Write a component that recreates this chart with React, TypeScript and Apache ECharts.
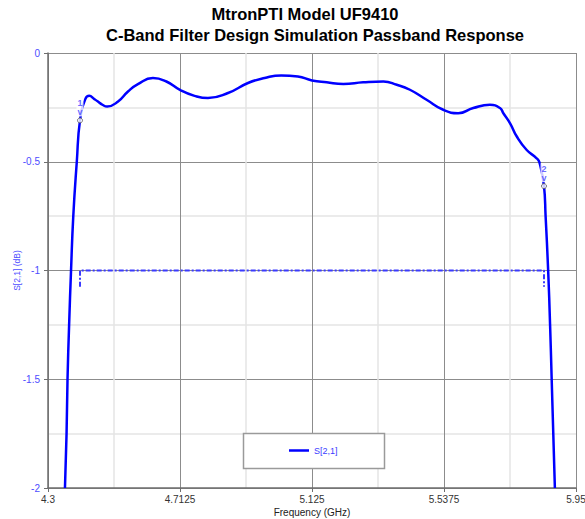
import React, { useEffect, useRef } from 'react';
import * as echarts from 'echarts';

// S[2,1] response (GHz, dB)
const freq = [
  4.353, 4.358, 4.361, 4.366, 4.372, 4.379, 4.39, 4.4, 4.4166, 4.429, 4.445, 4.456, 4.47, 4.485,
  4.519, 4.55, 4.581, 4.628, 4.67, 4.715, 4.758, 4.8, 4.8625, 4.925, 4.977, 5.029, 5.081, 5.125,
  5.171, 5.223, 5.285, 5.348, 5.39, 5.431, 5.483, 5.535, 5.582, 5.629, 5.681, 5.7125, 5.723, 5.744,
  5.765, 5.796, 5.827, 5.836, 5.85, 5.855, 5.863, 5.869, 5.874, 5.879, 5.884,
];
const s21 = [
  -2.0, -1.75, -1.5, -1.25, -1.0, -0.75, -0.5, -0.31, -0.212, -0.197, -0.212, -0.223, -0.238, -0.246,
  -0.223, -0.177, -0.143, -0.115, -0.131, -0.172, -0.197, -0.207, -0.184, -0.138, -0.115, -0.103, -0.108, -0.126,
  -0.135, -0.143, -0.135, -0.131, -0.146, -0.169, -0.215, -0.261, -0.277, -0.253, -0.238, -0.253, -0.277, -0.323,
  -0.384, -0.446, -0.484, -0.504, -0.612, -0.75, -1.0, -1.25, -1.5, -1.75, -2.0,
];

// markers
const markerNames = ['1', '2'];
const markerFreq = [4.4, 5.85];
const markerDb = [-0.31, -0.612];

// -1 dB passband spec line
const specFreq = [4.4, 4.4, 5.85, 5.85];
const specDb = [-1.075, -1, -1, -1.075];

// axis tick labels
const xTickLabels = ['4.3', '4.7125', '5.125', '5.5375', '5.95'];

const FONT = '"Liberation Sans", Arial, sans-serif';

export default function App() {
  const ref = useRef<HTMLDivElement>(null);
  useEffect(() => {
    const chart = echarts.init(ref.current!, undefined, { renderer: 'svg' });
    const option: any = {
      animation: false,
      backgroundColor: '#fff',
      textStyle: { fontFamily: FONT },
      grid: { left: 48, right: 9, top: 53, bottom: 31, containLabel: false, outerBoundsMode: 'none' },
      graphic: [
        {
          type: 'text', x: 305, y: 14, z: 10,
          style: { text: 'MtronPTI Model UF9410', font: 'bold 16.5px ' + FONT, fill: '#000', align: 'center', verticalAlign: 'middle' },
        },
        {
          type: 'text', x: 315, y: 35, z: 10,
          style: { text: 'C-Band Filter Design Simulation Passband Response', font: 'bold 16.5px ' + FONT, fill: '#000', align: 'center', verticalAlign: 'middle' },
        },
        {
          type: 'rect', z: 3,
          shape: { x: 243.5, y: 433.5, width: 141, height: 35 },
          style: { fill: '#fff', stroke: '#9a9a9a', lineWidth: 1.5 },
        },
      ],
      legend: {
        data: ['S[2,1]'],
        left: 289, top: 446, padding: 0, z: 5,
        icon: 'rect', itemWidth: 20, itemHeight: 2.5,
        textStyle: { color: '#3b3bff', fontSize: 9, fontFamily: FONT },
      },
      xAxis: [
        { type: 'value', min: 4.3, max: 5.95, show: false },
        {
          type: 'value', min: 0, max: 4, interval: 1, position: 'bottom',
          name: 'Frequency (GHz)', nameLocation: 'middle', nameGap: 19, nameMoveOverlap: false,
          nameTextStyle: { color: '#222', fontSize: 10, fontFamily: FONT },
          axisLine: { show: true, lineStyle: { color: '#6e6e6e', width: 1.5 } },
          axisTick: { show: true, length: 4, lineStyle: { color: '#6e6e6e' } },
          axisLabel: { formatter: (v: number) => xTickLabels[Math.round(v)] ?? '', margin: 6, color: '#333', fontSize: 10, fontFamily: FONT },
          splitLine: { show: true, lineStyle: { color: '#8c8c8c', width: 1 } },
          minorTick: { show: false, splitNumber: 2 },
          minorSplitLine: { show: true, lineStyle: { color: '#e4e4e4', width: 1.5 } },
        },
      ],
      yAxis: {
        type: 'value', min: -2, max: 0, interval: 0.5,
        name: 'S[2,1] (dB)', nameLocation: 'middle', nameGap: 27, nameMoveOverlap: false,
        nameTextStyle: { color: '#4d4dff', fontSize: 8.5, fontFamily: FONT },
        axisLine: { show: true, lineStyle: { color: '#6e6e6e', width: 1.5 } },
        axisTick: { show: true, length: 4, lineStyle: { color: '#6e6e6e' } },
        axisLabel: { formatter: (v: number) => String(v), margin: 8, color: '#4d4dff', fontSize: 10, fontFamily: FONT },
        splitLine: { show: true, lineStyle: { color: '#8c8c8c', width: 1 } },
        minorTick: { show: false, splitNumber: 2 },
        minorSplitLine: { show: true, lineStyle: { color: '#e4e4e4', width: 1.5 } },
      },
      series: [
        {
          name: 'spec', type: 'line', xAxisIndex: 0, z: 2,
          data: specFreq.map((f, i) => [f, specDb[i]]),
          symbol: 'none',
          lineStyle: { color: '#3a3aff', width: 2, type: [5, 2, 2, 2] },
        },
        {
          name: 'S[2,1]', type: 'line', xAxisIndex: 0, z: 3,
          data: freq.map((f, i) => [f, s21[i]]),
          symbol: 'none', smooth: 0.5, clip: true,
          lineStyle: { color: '#0000ff', width: 2.5 },
          itemStyle: { color: '#0000ff' },
        },
        {
          name: 'markers', type: 'scatter', xAxisIndex: 0, z: 4,
          data: markerFreq.map((f, i) => [f, markerDb[i]]),
          symbol: 'circle', symbolSize: 5,
          itemStyle: { color: '#fff', borderColor: '#555', borderWidth: 1 },
          label: {
            show: true, position: 'top', distance: 1,
            formatter: (p: any) => markerNames[p.dataIndex] + '\nv',
            color: '#4444ff', fontSize: 9, lineHeight: 9, fontWeight: 'bold', fontFamily: FONT,
            backgroundColor: '#fff', padding: [1, 1, 0, 1],
          },
        },
      ],
    };
    chart.setOption(option);
    return () => chart.dispose();
  }, []);
  return <div ref={ref} style={{ position: 'absolute', left: 0, top: 0, width: 585, height: 519, background: '#fff' }} />;
}
